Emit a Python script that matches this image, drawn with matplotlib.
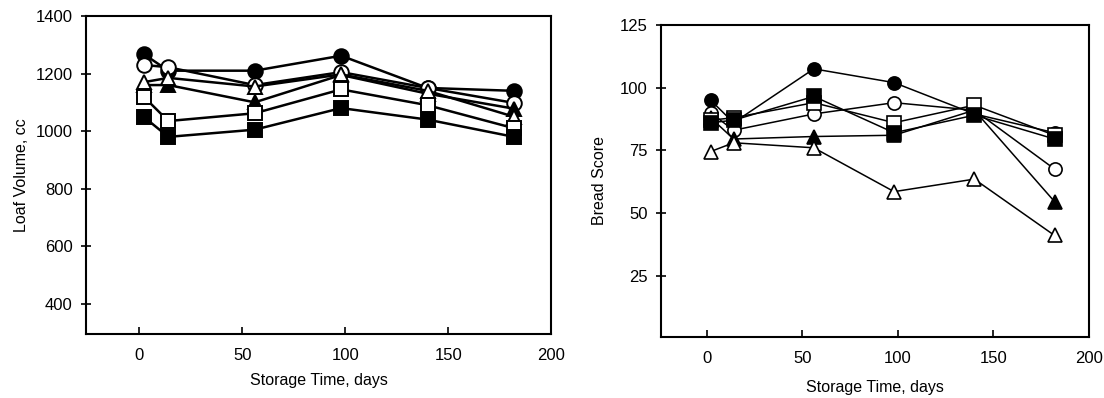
import numpy as np
import matplotlib
matplotlib.use('Agg')
import matplotlib.pyplot as plt

plt.rcParams['font.family'] = ['Liberation Sans', 'DejaVu Sans']

# storage time (days) at which loaves were baked
days = [2, 14, 56, 98, 140, 182]

# loaf volume, cc
vol_filled_circle = [1268, 1210, 1210, 1262, 1150, 1140]
vol_open_circle = [1230, 1222, 1160, 1205, 1150, 1098]
vol_filled_tri = [1160, 1160, 1100, 1195, 1130, 1078]
vol_open_tri = [1170, 1185, 1155, 1197, 1140, 1050]
vol_open_sq = [1120, 1035, 1062, 1145, 1090, 1010]
vol_filled_sq = [1050, 980, 1005, 1080, 1040, 980]

# bread score
score_filled_circle = [95, 86, 107.5, 102, 89.5, 82]
score_open_circle = [90, 83, 89.5, 94, 91, 67.5]
score_filled_tri = [88, 79.5, 80.5, 81, 91, 54.5]
score_open_tri = [74.5, 78, 76, 58.5, 63.5, 41]
score_open_sq = [87, 88, 94, 86, 93, 81]
score_filled_sq = [86, 87, 96.5, 82, 89, 79.5]

vol_series = [(vol_filled_circle, 'o', 'k'), (vol_open_circle, 'o', 'w'),
              (vol_filled_tri, '^', 'k'), (vol_open_tri, '^', 'w'),
              (vol_open_sq, 's', 'w'), (vol_filled_sq, 's', 'k')]
score_series = [(score_filled_circle, 'o', 'k'), (score_open_circle, 'o', 'w'),
                (score_filled_tri, '^', 'k'), (score_open_tri, '^', 'w'),
                (score_open_sq, 's', 'w'), (score_filled_sq, 's', 'k')]

fig = plt.figure(figsize=(11.04, 3.98), dpi=100)
ax1 = fig.add_axes([0.0779, 0.1608, 0.4212, 0.799])
ax2 = fig.add_axes([0.5987, 0.1533, 0.3877, 0.7839])

for vals, m, fc in vol_series:
    ax1.plot(days, vals, color='k', lw=1.8, marker=m, ms=10.5, mfc=fc, mec='k', mew=1.4)
for vals, m, fc in score_series:
    ax2.plot(days, vals, color='k', lw=1.1, marker=m, ms=9.5, mfc=fc, mec='k', mew=1.2)

ax1.set_xlim(-26, 200)
ax1.set_ylim(295, 1400)
ax1.set_yticks([400, 600, 800, 1000, 1200, 1400])
ax1.set_ylabel('Loaf Volume, cc', fontsize=11.5, labelpad=5)
ax1.set_xlabel('Storage Time, days', fontsize=11.5, labelpad=7)

ax2.set_xlim(-24, 200)
ax2.set_ylim(0.5, 125)
ax2.set_yticks([25, 50, 75, 100, 125])
ax2.set_ylabel('Bread Score', fontsize=11.5, labelpad=9)
ax2.set_xlabel('Storage Time, days', fontsize=11.5, labelpad=10)

for ax in (ax1, ax2):
    ax.set_xticks([0, 50, 100, 150, 200])
    ax.tick_params(axis='x', direction='in', length=5, width=1.2, labelsize=12, pad=10)
    ax.tick_params(axis='y', direction='inout', length=7, width=1.2, labelsize=12, pad=6)
    for s in ax.spines.values():
        s.set_linewidth(1.5)

fig.savefig('out.png', dpi=100)
